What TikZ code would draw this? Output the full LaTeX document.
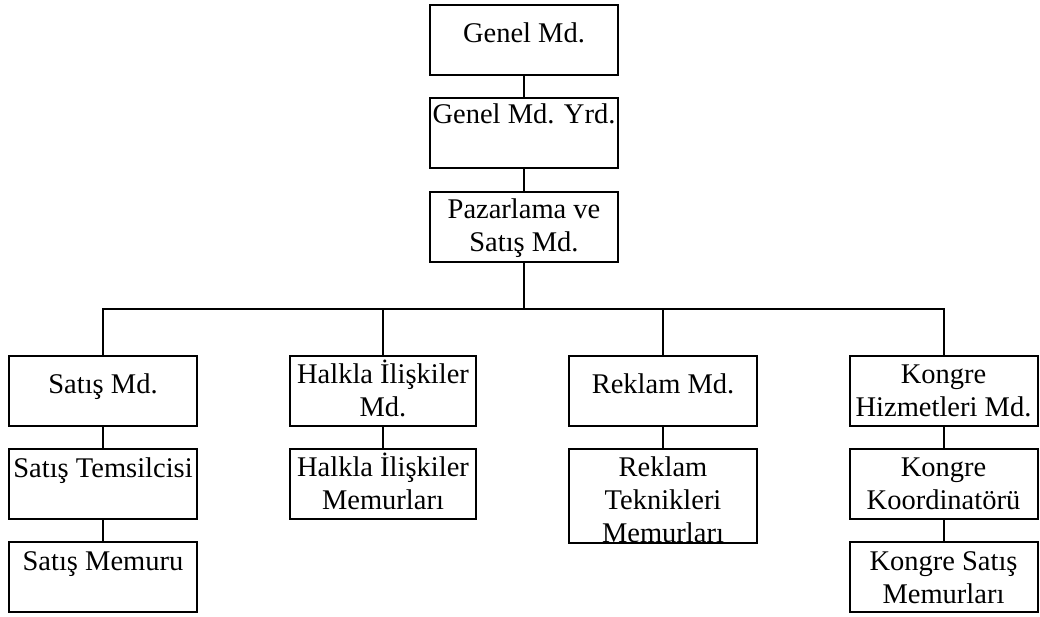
\documentclass[tikz,border=0pt]{standalone}
\usepackage{fontspec}
\setmainfont{Liberation Serif}
\begin{document}
\begin{tikzpicture}[x=1pt,y=-1pt,
  box/.style={draw,line width=2.2pt,inner sep=0pt,outer sep=0pt,anchor=north west,minimum width=188pt,minimum height=70pt},
  txt/.style={anchor=base,align=center,inner sep=0pt,font=\fontsize{28.5}{33}\selectfont},
  conn/.style={line width=2.2pt}]
\useasboundingbox (0,0) rectangle (1040,617);
% texts (base anchor = baseline of the last line)
\node[txt] (tgm) at (524,43) {Genel Md.};
\node[txt] (tgmy) at (524,124) {Genel Md. Yrd.};
\node[txt] (tpz) at (524,252) {Pazarlama ve\\Satış Md.};
\node[txt] (tsm) at (103,393) {Satış Md.};
\node[txt] (tst) at (103,477) {Satış Temsilcisi};
\node[txt] (tsmem) at (103,570) {Satış Memuru};
\node[txt] (thm) at (383,416) {Halkla İlişkiler\\Md.};
\node[txt] (thmem) at (383,509) {Halkla İlişkiler\\Memurları};
\node[txt] (trm) at (663,393) {Reklam Md.};
\node[txt] (trtm) at (663,542) {Reklam\\Teknikleri\\Memurları};
\node[txt] (tkm) at (943.5,416) {Kongre\\Hizmetleri Md.};
\node[txt] (tkk) at (943.5,509) {Kongre\\Koordinatörü};
\node[txt] (tks) at (943.5,603) {Kongre Satış\\Memurları};
% boxes
\node[box] (gm) at (430,5) {};
\node[box] (gmy) at (430,98) {};
\node[box] (pz) at (430,192) {};
\node[box] (sm) at (9,356) {};
\node[box] (st) at (9,449) {};
\node[box] (smem) at (9,542) {};
\node[box,minimum width=186pt] (hm) at (290,356) {};
\node[box,minimum width=186pt] (hmem) at (290,449) {};
\node[box] (rm) at (569,356) {};
\node[box,minimum height=94pt] (rtm) at (569,449) {};
\node[box,minimum width=188pt] (km) at (850,356) {};
\node[box,minimum width=188pt] (kk) at (850,449) {};
\node[box,minimum width=188pt] (ks) at (850,542) {};
% connectors
\coordinate (bar) at (0,309);
\draw[conn] (gm.south) -- (gmy.north);
\draw[conn] (gmy.south) -- (pz.north);
\draw[conn] (pz.south) -- (pz.south |- bar);
\draw[conn] (sm.north) -- (sm.north |- bar) -- (km.north |- bar) -- (km.north);
\draw[conn] (hm.north) -- (hm.north |- bar);
\draw[conn] (rm.north) -- (rm.north |- bar);
\draw[conn] (sm.south) -- (st.north);
\draw[conn] (st.south) -- (smem.north);
\draw[conn] (hm.south) -- (hmem.north);
\draw[conn] (rm.south) -- (rtm.north);
\draw[conn] (km.south) -- (kk.north);
\draw[conn] (kk.south) -- (ks.north);
\end{tikzpicture}
\end{document}
